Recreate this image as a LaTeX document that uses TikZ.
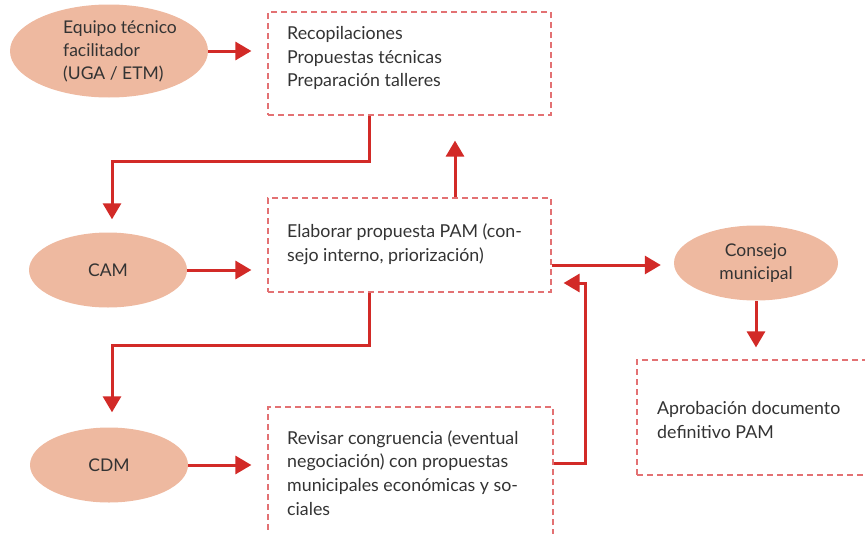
\documentclass[tikz,border=0pt]{standalone}
\usepackage{fontspec}
\setmainfont{Lato}
\usetikzlibrary{shapes.geometric,arrows.meta}
\definecolor{arrred}{HTML}{D22A27}
\definecolor{dashred}{HTML}{E37173}
\definecolor{ellfill}{HTML}{EEB9A0}
\definecolor{txt}{HTML}{333333}
\begin{document}
\begin{tikzpicture}[x=1pt,y=-1pt,
  oval/.style={ellipse, fill=ellfill, text=txt, font=\fontsize{17.5}{23}\selectfont, inner sep=0pt},
  dbox/.style={draw=dashred, dash pattern=on 6pt off 4pt, line width=1.2pt, rectangle, inner sep=0pt},
  btext/.style={text=txt, font=\fontsize{17.8}{23.8}\selectfont, align=left, anchor=west, inner sep=0pt},
  arr/.style={draw=arrred, line width=3pt, -{Triangle[width=18pt,length=16pt]}}]
\useasboundingbox (0,0) rectangle (865,533);
\clip (0,0) rectangle (865,533);
% ellipses
\node[oval, minimum width=198pt, minimum height=93pt] (eq) at (109,51) {};
\node[btext, font=\fontsize{17.5}{23}\selectfont] (eqt) at (63,51) {Equipo técnico\\facilitador\\(UGA / ETM)};
\node[oval, minimum width=158pt, minimum height=75pt] (cam) at (108,270) {CAM};
\node[oval, minimum width=158pt, minimum height=75pt] (cdm) at (109,465) {CDM};
\node[oval, align=center, minimum width=164pt, minimum height=75pt] (cons) at (756,263) {Consejo\\municipal};
% boxes
\node[dbox, minimum width=283pt, minimum height=103pt] (recop) at (409.5,63.5) {};
\node[dbox, minimum width=283pt, minimum height=94pt] (elab) at (409.5,245) {};
\node[dbox, minimum width=285pt, minimum height=153pt] (rev) at (410.5,483.5) {};
\node[dbox, minimum width=243pt, minimum height=115pt] (apr) at (758.5,417.5) {};
% texts
\node[btext] (recopt) at (287,58) {Recopilaciones\\Propuestas técnicas\\Preparación talleres};
\node[btext] (elabt) at (287,244) {Elaborar propuesta PAM (con-\\sejo interno, priorización)};
\node[btext] (revt) at (287,473) {Revisar congruencia (eventual\\negociación) con propuestas\\municipales económicas y so-\\ciales};
\node[btext] (aprt) at (657,420) {Aprobación documento\\definitivo PAM};
% connector anchors
\coordinate (eout) at ([yshift=-20pt]elab.east);
\coordinate (ein) at ([yshift=-38pt]elab.east);
\coordinate (rout) at ([yshift=20.5pt]rev.east);
% arrows
\draw[arr, shorten >=16pt] (eq.east) -- (recop.west |- eq.east);
\draw[arr, shorten >=13pt] ([xshift=-40.5pt]recop.south) -- ++(0,46) -| ([xshift=4pt]cam.north);
\draw[arr, shorten >=25pt] ([xshift=45.5pt]elab.north) -- ([xshift=45.5pt]recop.south);
\draw[arr, shorten >=16pt] (cam.east) -- (elab.west |- cam.east);
\draw[arr, shorten >=15pt] ([xshift=-40.5pt]elab.south) -- ++(0,53) -| ([xshift=3pt]cdm.north);
\draw[arr, shorten >=16pt] (cdm.east) -- (rev.west |- cdm.east);
\draw[arr, shorten >=13pt] (eout) -- (cons.west |- eout);
\draw[arr, shorten >=12pt] (rout) -- ++(32,0) |- (ein);
\draw[arr, shorten >=12pt] (cons.south) -- (apr.north -| cons.south);
\end{tikzpicture}
\end{document}
